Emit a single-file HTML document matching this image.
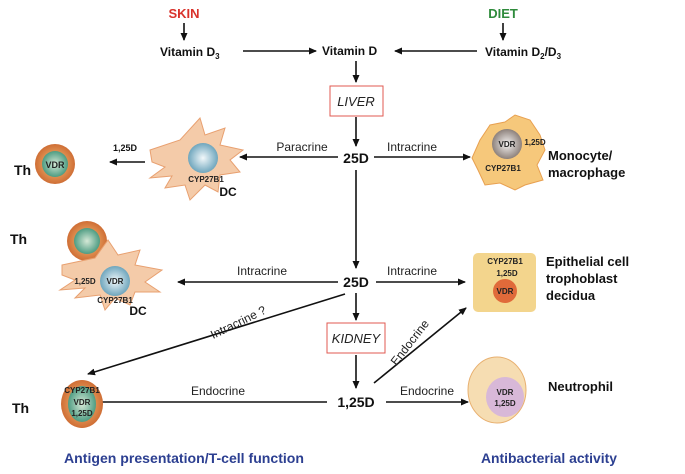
<!DOCTYPE html>
<html><head><meta charset="utf-8"><style>
html,body{margin:0;padding:0;background:#fff;}
svg{display:block;font-family:"Liberation Sans",Arial,sans-serif;}
</style></head><body>
<svg width="685" height="474" viewBox="0 0 685 474" xmlns="http://www.w3.org/2000/svg">
<defs>
<marker id="a" markerWidth="8" markerHeight="8" refX="7" refY="4" orient="auto" markerUnits="userSpaceOnUse"><path d="M0,0.5 L8,4 L0,7.5 Z" fill="#111"/></marker>
<radialGradient id="blue" cx="0.5" cy="0.5" r="0.5"><stop offset="0" stop-color="#f2f8fa"/><stop offset="1" stop-color="#6fa6bd"/></radialGradient>
<radialGradient id="green" cx="0.5" cy="0.5" r="0.5"><stop offset="0" stop-color="#d5e8d6"/><stop offset="1" stop-color="#4d9c82"/></radialGradient>
<radialGradient id="grey" cx="0.5" cy="0.5" r="0.5"><stop offset="0" stop-color="#f5f3f2"/><stop offset="1" stop-color="#8d817b"/></radialGradient>
<radialGradient id="orange" cx="0.5" cy="0.5" r="0.5"><stop offset="0.5" stop-color="#e49a5a"/><stop offset="1" stop-color="#cf6e35"/></radialGradient>
</defs>
<g font-weight="bold" font-size="12" fill="#111">
<text x="184" y="18" fill="#d9322b" font-size="13" text-anchor="middle">SKIN</text>
<text x="503" y="18" fill="#2f8b3c" font-size="13" text-anchor="middle">DIET</text>
<text x="160" y="56">Vitamin D<tspan font-size="8" dy="3">3</tspan></text>
<text x="322" y="55">Vitamin D</text>
<text x="485" y="56">Vitamin D<tspan font-size="8" dy="3">2</tspan><tspan dy="-3">/D</tspan><tspan font-size="8" dy="3">3</tspan></text>
<text x="356" y="163" text-anchor="middle" font-size="14">25D</text>
<text x="356" y="287" text-anchor="middle" font-size="14">25D</text>
<text x="356" y="407" text-anchor="middle" font-size="14">1,25D</text>
<text x="14" y="175" font-size="14">Th</text>
<text x="10" y="244" font-size="14">Th</text>
<text x="12" y="413" font-size="14">Th</text>
<text x="548" y="160" font-size="13">Monocyte/</text>
<text x="548" y="177" font-size="13">macrophage</text>
<text x="546" y="266" font-size="13">Epithelial cell</text>
<text x="546" y="283" font-size="13">trophoblast</text>
<text x="546" y="300" font-size="13">decidua</text>
<text x="548" y="391" font-size="13">Neutrophil</text>
<text x="113" y="151" font-size="9">1,25D</text>
<text x="64" y="463" fill="#2c3f91" font-size="14" textLength="240" lengthAdjust="spacingAndGlyphs">Antigen presentation/T-cell function</text>
<text x="481" y="463" fill="#2c3f91" font-size="14" textLength="136" lengthAdjust="spacingAndGlyphs">Antibacterial activity</text>
</g>
<g stroke="#111" stroke-width="1.6" fill="none" marker-end="url(#a)">
<line x1="184" y1="23" x2="184" y2="40"/>
<line x1="503" y1="23" x2="503" y2="40"/>
<line x1="243" y1="51" x2="316" y2="51"/>
<line x1="477" y1="51" x2="395" y2="51"/>
<line x1="356" y1="61" x2="356" y2="82"/>
<line x1="356" y1="117" x2="356" y2="146"/>
<line x1="338" y1="157" x2="240" y2="157"/>
<line x1="374" y1="157" x2="470" y2="157"/>
<line x1="145" y1="162" x2="110" y2="162"/>
<line x1="356" y1="170" x2="356" y2="268"/>
<line x1="338" y1="282" x2="178" y2="282"/>
<line x1="376" y1="282" x2="465" y2="282"/>
<line x1="356" y1="293" x2="356" y2="320"/>
<line x1="356" y1="355" x2="356" y2="388"/>
<line x1="345" y1="294" x2="88" y2="374"/>
<line x1="327" y1="402" x2="82" y2="402"/>
<line x1="386" y1="402" x2="468" y2="402"/>
<line x1="374" y1="383" x2="466" y2="308"/>
</g>
<g font-size="12" fill="#222">
<text x="302" y="151" text-anchor="middle">Paracrine</text>
<text x="412" y="151" text-anchor="middle">Intracrine</text>
<text x="262" y="275" text-anchor="middle">Intracrine</text>
<text x="412" y="275" text-anchor="middle">Intracrine</text>
<text x="218" y="395" text-anchor="middle">Endocrine</text>
<text x="427" y="395" text-anchor="middle">Endocrine</text>
<text transform="translate(240,326) rotate(-26)" text-anchor="middle">Intracrine ?</text>
<text transform="translate(413,345) rotate(-52)" text-anchor="middle">Endocrine</text>
</g>
<rect x="330" y="86" width="53" height="30" fill="#fff" stroke="#e05a50" stroke-width="1"/>
<text x="356" y="106" text-anchor="middle" font-style="italic" font-size="13" fill="#222">LIVER</text>
<rect x="327" y="323" width="58" height="30" fill="#fff" stroke="#e05a50" stroke-width="1"/>
<text x="356" y="343" text-anchor="middle" font-style="italic" font-size="13" fill="#222">KIDNEY</text>
<circle cx="55" cy="164" r="20" fill="url(#orange)"/>
<circle cx="55" cy="164" r="13" fill="url(#green)"/>
<text x="55" y="168" text-anchor="middle" font-size="9" font-weight="bold" fill="#222">VDR</text>
<path d="M150,150 L180,140 L200,118 L205,135 L225,128 L220,145 L243,150 L230,160 L240,172 L220,175 L218,192 L205,185 L190,200 L185,185 L165,188 L172,176 L150,178 L165,167 L152,162 Z" fill="#f4cba9" stroke="#e8a070"/>
<circle cx="203" cy="158" r="15" fill="url(#blue)"/>
<text x="206" y="182" text-anchor="middle" font-size="8" font-weight="bold" fill="#222">CYP27B1</text>
<text x="228" y="196" text-anchor="middle" font-size="12" font-weight="bold" fill="#111">DC</text>
<circle cx="87" cy="241" r="20" fill="url(#orange)"/>
<circle cx="87" cy="241" r="13" fill="url(#green)"/>
<path d="M62,265 L95,258 L108,240 L118,255 L140,250 L135,265 L162,270 L145,282 L160,292 L135,292 L130,305 L115,298 L105,310 L100,295 L75,298 L85,288 L60,290 L75,280 L62,275 Z" fill="#f4cba9" stroke="#e8a070"/>
<circle cx="115" cy="281" r="15" fill="url(#blue)"/>
<text x="115" y="284" text-anchor="middle" font-size="8" font-weight="bold" fill="#222">VDR</text>
<text x="85" y="284" text-anchor="middle" font-size="8" font-weight="bold" fill="#222">1,25D</text>
<text x="115" y="303" text-anchor="middle" font-size="8" font-weight="bold" fill="#222">CYP27B1</text>
<text x="138" y="315" text-anchor="middle" font-size="12" font-weight="bold" fill="#111">DC</text>
<path d="M480,140 L490,125 L505,122 L515,115 L530,120 L540,135 L545,150 L537,165 L543,180 L525,185 L515,190 L500,183 L485,185 L478,170 L472,158 Z" fill="#f6c87b" stroke="#e8a050"/>
<circle cx="507" cy="144" r="15" fill="url(#grey)"/>
<text x="507" y="147" text-anchor="middle" font-size="8" font-weight="bold" fill="#222">VDR</text>
<text x="535" y="145" text-anchor="middle" font-size="8" font-weight="bold" fill="#222">1,25D</text>
<text x="503" y="171" text-anchor="middle" font-size="8" font-weight="bold" fill="#222">CYP27B1</text>
<rect x="473" y="253" width="63" height="59" rx="5" fill="#f3d58d"/>
<circle cx="505" cy="291" r="12" fill="#e06a3a"/>
<text x="505" y="264" text-anchor="middle" font-size="8" font-weight="bold" fill="#222">CYP27B1</text>
<text x="507" y="276" text-anchor="middle" font-size="8" font-weight="bold" fill="#222">1,25D</text>
<text x="505" y="294" text-anchor="middle" font-size="8" font-weight="bold" fill="#222">VDR</text>
<ellipse cx="82" cy="404" rx="21" ry="24" fill="url(#orange)"/>
<ellipse cx="82" cy="404" rx="14" ry="18" fill="url(#green)"/>
<text x="82" y="393" text-anchor="middle" font-size="8" font-weight="bold" fill="#222">CYP27B1</text>
<text x="82" y="405" text-anchor="middle" font-size="8" font-weight="bold" fill="#222">VDR</text>
<text x="82" y="416" text-anchor="middle" font-size="8" font-weight="bold" fill="#222">1,25D</text>
<ellipse cx="497" cy="390" rx="29" ry="33" fill="#f6ddb2" stroke="#e8b070"/>
<ellipse cx="505" cy="397" rx="19" ry="20" fill="#d8b8d8"/>
<text x="505" y="395" text-anchor="middle" font-size="8" font-weight="bold" fill="#222">VDR</text>
<text x="505" y="406" text-anchor="middle" font-size="8" font-weight="bold" fill="#222">1,25D</text>
</svg>
</body></html>
